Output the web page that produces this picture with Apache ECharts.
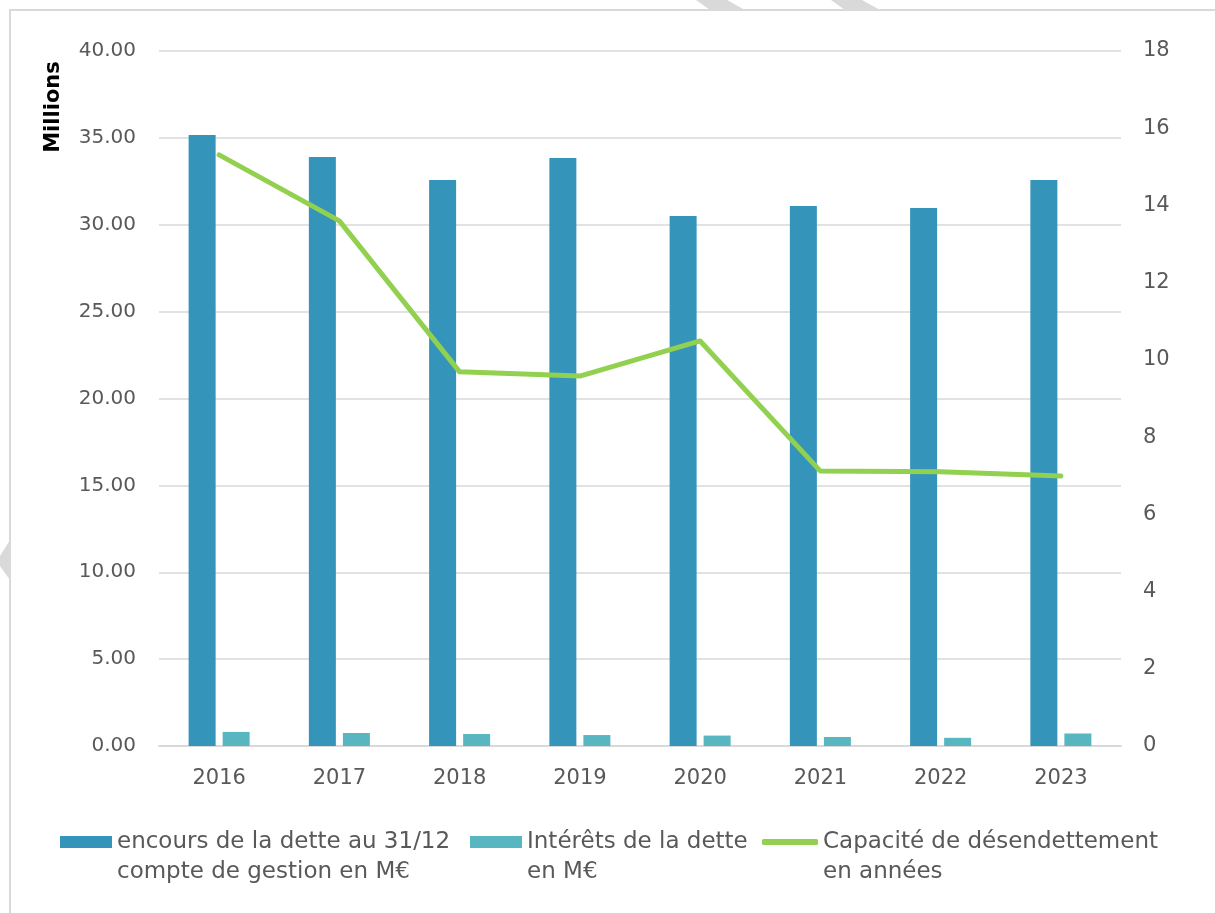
<!DOCTYPE html>
<html>
<head>
<meta charset="utf-8">
<script src="https://cdn.jsdelivr.net/npm/echarts@6/dist/echarts.min.js"></script>
<style>html,body{margin:0;padding:0;background:#fff}#c{width:1215px;height:913px}</style>
</head>
<body>
<div id="c"></div>
<script>
const categories = ['2016','2017','2018','2019','2020','2021','2022','2023'];
const encours = [35.17, 33.90, 32.58, 33.84, 30.50, 31.08, 30.96, 32.58];
const interets = [0.81, 0.75, 0.69, 0.63, 0.60, 0.52, 0.47, 0.72];
const capacite = [15.31, 13.60, 9.69, 9.58, 10.49, 7.12, 7.10, 6.99];
const leftTicks = [0, 40, 5];
const rightTicks = [0, 18, 2];
const names = ['encours de la dette au 31/12\ncompte de gestion en M€', 'Intérêts de la dette\nen M€', 'Capacité de désendettement\nen années'];

const FONT = 'DejaVu Sans';
const TXT = '#595959';
const chart = echarts.init(document.getElementById('c'));
const legendText = {color: TXT, fontFamily: FONT, fontSize: 23, lineHeight: 30};
const legendFmt = n => '\n' + n;
chart.setOption({
  animation: false,
  backgroundColor: '#fff',
  graphic: [
    {type: 'polygon', shape: {points: [[696,0],[727,0],[745,10],[710,10]]}, style: {fill: '#D9D9D9'}},
    {type: 'polygon', shape: {points: [[831,0],[862,0],[880,10],[845,10]]}, style: {fill: '#D9D9D9'}},
    {type: 'polygon', shape: {points: [[10,540],[0,556],[0,566],[10,580]]}, style: {fill: '#D9D9D9'}},
    {type: 'rect', shape: {x: 10, y: 10, width: 1240, height: 940}, style: {fill: 'none', stroke: '#D9D9D9', lineWidth: 2}},
    {type: 'text', x: 54, y: 107, rotation: Math.PI / 2, style: {text: 'Millions', fontFamily: FONT, fontWeight: 'bold', fontSize: 21, fill: '#000', align: 'center', verticalAlign: 'middle'}}
  ],
  grid: {left: 159, right: 94, top: 51, bottom: 167},
  legend: [
    {left: 60, top: 797, padding: 0, itemWidth: 52, itemHeight: 12, icon: 'rect', data: [names[0]], formatter: legendFmt, textStyle: legendText},
    {left: 470, top: 797, padding: 0, itemWidth: 52, itemHeight: 12, icon: 'rect', data: [names[1]], formatter: legendFmt, textStyle: legendText},
    {left: 762, top: 797, padding: 0, itemWidth: 56, itemHeight: 6, icon: 'roundRect', data: [names[2]], formatter: legendFmt, textStyle: legendText}
  ],
  xAxis: {
    type: 'category', data: categories,
    axisLine: {lineStyle: {color: '#D9D9D9', width: 2}},
    axisTick: {show: false},
    axisLabel: {color: TXT, fontFamily: FONT, fontSize: 21, margin: 22}
  },
  yAxis: [
    {
      type: 'value', min: leftTicks[0], max: leftTicks[1], interval: leftTicks[2],
      axisLine: {show: false}, axisTick: {show: false},
      splitLine: {lineStyle: {color: '#D9D9D9', width: 1.5}},
      axisLabel: {color: TXT, fontFamily: FONT, fontSize: 20, margin: 23, formatter: v => v.toFixed(2)}
    },
    {
      type: 'value', min: rightTicks[0], max: rightTicks[1], interval: rightTicks[2],
      axisLine: {show: false}, axisTick: {show: false}, splitLine: {show: false},
      axisLabel: {color: TXT, fontFamily: FONT, fontSize: 21, margin: 22}
    }
  ],
  series: [
    {name: names[0], type: 'bar', data: encours, barWidth: 27, barGap: '26%', itemStyle: {color: '#3494BA'}},
    {name: names[1], type: 'bar', data: interets, barWidth: 27, itemStyle: {color: '#58B6C0'}},
    {name: names[2], type: 'line', yAxisIndex: 1, data: capacite, symbol: 'none', lineStyle: {color: '#92D050', width: 5, cap: 'round', join: 'round'}, itemStyle: {color: '#92D050'}, z: 5}
  ]
});
</script>
</body>
</html>
